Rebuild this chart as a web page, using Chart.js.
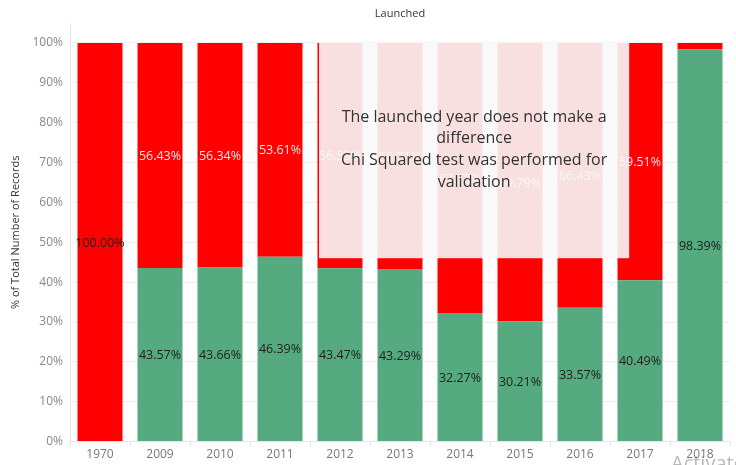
<!DOCTYPE html>
<html>
<head>
<meta charset="utf-8">
<script src="https://cdn.jsdelivr.net/npm/chart.js@4.4.0/dist/chart.umd.min.js"></script>
<style>
  html, body { margin: 0; padding: 0; background: #fff; }
</style>
</head>
<body>
<canvas id="chart" width="736" height="465"></canvas>
<script>
// launch years on the x axis
const years = ['1970', '2009', '2010', '2011', '2012', '2013', '2014', '2015', '2016', '2017', '2018'];

// share of records per year, bottom (green) and top (red) segment
const greenPct = [0, 43.57, 43.66, 46.39, 43.47, 43.29, 32.27, 30.21, 33.57, 40.49, 98.39];
const redPct = [100.00, 56.43, 56.34, 53.61, 56.53, 56.71, 67.73, 69.79, 66.43, 59.51, 1.61];

// y axis tick values
const yTicks = [0, 10, 20, 30, 40, 50, 60, 70, 80, 90, 100];

// text of the note laid over the chart
const noteLines = [
  'The launched year does not make a',
  'difference',
  'Chi Squared test was performed for',
  'validation'
];

const FONT = '"Open Sans", "Noto Sans", sans-serif';

// Plugin: segmentLabels
// Purpose: writes the percentage in the middle of each stacked segment
const segmentLabels = {
  id: 'segmentLabels',
  afterDatasetsDraw(chart) {
    const ctx = chart.ctx;
    ctx.save();
    ctx.font = '12.5px ' + FONT;
    ctx.textAlign = 'center';
    ctx.textBaseline = 'middle';
    chart.data.datasets.forEach((ds, di) => {
      const meta = chart.getDatasetMeta(di);
      meta.data.forEach((bar, i) => {
        const v = ds.data[i];
        if (!v) return;
        const h = Math.abs(bar.base - bar.y);
        // too thin to hold a label
        if (h < 14) return;
        // red segments get light text, unless the bar is all red
        ctx.fillStyle = (di === 1 && v < 100) ? '#fde6e6' : '#1e1e1e';
        ctx.fillText(v.toFixed(2) + '%', bar.x, (bar.y + bar.base) / 2 + 1);
      });
    });
    ctx.restore();
  }
};

// Plugin: overlayNote
// Purpose: draws the title, the translucent note box and the watermark
const overlayNote = {
  id: 'overlayNote',
  afterDraw(chart) {
    const ctx = chart.ctx;
    const x = chart.scales.x;
    const y = chart.scales.y;
    const area = chart.chartArea;

    ctx.save();

    // chart title above the plot
    ctx.font = '11px ' + FONT;
    ctx.fillStyle = '#333';
    ctx.textAlign = 'center';
    ctx.textBaseline = 'middle';
    ctx.fillText('Launched', (area.left + area.right) / 2, 14);

    // note box, placed in category / value units
    const left = x.getPixelForValue(3.65);
    const right = x.getPixelForValue(8.82);
    const top = y.getPixelForValue(100.5);
    const bottom = y.getPixelForValue(46);
    ctx.fillStyle = 'rgba(248, 248, 248, 0.9)';
    ctx.fillRect(left, top, right - left, bottom - top);

    ctx.font = '16px ' + FONT;
    ctx.fillStyle = '#333';
    const cx = (left + right) / 2;
    const cy = (top + bottom) / 2;
    const lh = 21.7;
    noteLines.forEach((line, i) => {
      ctx.fillText(line, cx, cy + (i - (noteLines.length - 1) / 2) * lh);
    });

    // faint watermark cut off at the bottom right
    ctx.font = '20px ' + FONT;
    ctx.fillStyle = 'rgba(0, 0, 0, 0.28)';
    ctx.textAlign = 'left';
    ctx.textBaseline = 'alphabetic';
    ctx.fillText('Activate', 671, 470);

    ctx.restore();
  }
};

new Chart(document.getElementById('chart'), {
  type: 'bar',
  data: {
    labels: years,
    datasets: [
      {
        label: 'green',
        data: greenPct,
        backgroundColor: '#55aa80',
        barPercentage: 0.75,
        categoryPercentage: 1.0
      },
      {
        label: 'red',
        data: redPct,
        backgroundColor: '#ff0000',
        barPercentage: 0.75,
        categoryPercentage: 1.0
      }
    ]
  },
  options: {
    responsive: false,
    animation: false,
    layout: { padding: { top: 23, right: 6, bottom: 2, left: 0 } },
    plugins: {
      legend: { display: false },
      tooltip: { enabled: false },
      title: { display: false }
    },
    scales: {
      x: {
        stacked: true,
        grid: {
          offset: true,
          drawOnChartArea: false,
          tickLength: 5,
          color: '#e6e6e6'
        },
        border: { color: '#e6e6e6' },
        ticks: {
          color: '#777',
          font: { family: FONT, size: 12 },
          padding: 1,
          maxRotation: 0
        }
      },
      y: {
        stacked: true,
        min: 0,
        max: 105,
        afterBuildTicks: (scale) => {
          scale.ticks = yTicks.map((v) => ({ value: v }));
        },
        afterFit: (scale) => {
          scale.width = 70;
        },
        grid: { color: '#efefef', drawTicks: false },
        border: { color: '#e6e6e6' },
        ticks: {
          color: '#888',
          font: { family: FONT, size: 12 },
          padding: 7,
          callback: (v) => v + '%'
        },
        title: {
          display: true,
          text: '% of Total Number of Records',
          color: '#333',
          font: { family: FONT, size: 11 },
          padding: { top: 9, bottom: 4 }
        }
      }
    }
  },
  plugins: [segmentLabels, overlayNote]
});
</script>
</body>
</html>
